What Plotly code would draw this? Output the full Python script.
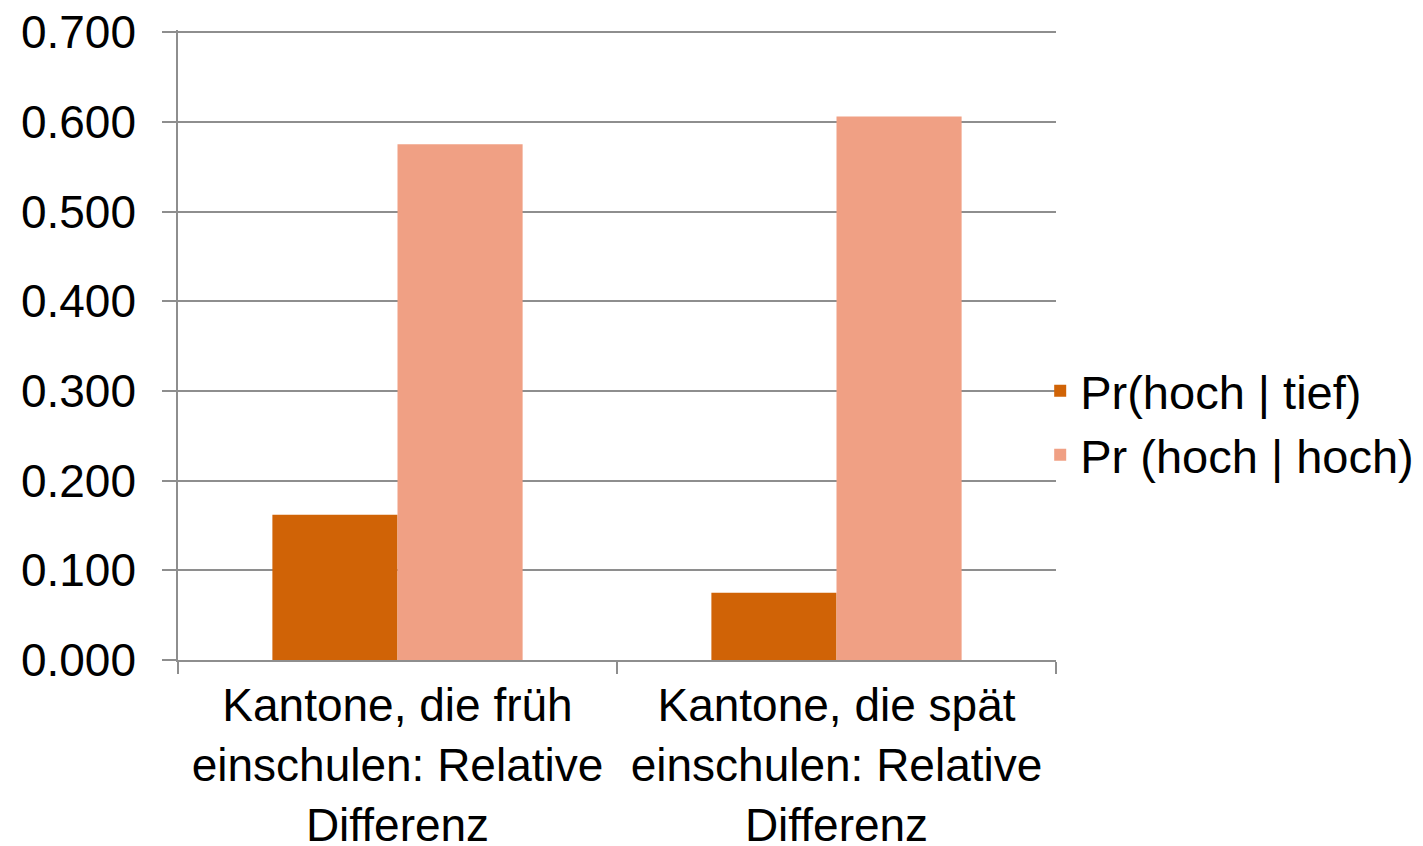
import plotly.graph_objects as go

categories = [
    "Kantone, die früh<br>einschulen: Relative<br>Differenz",
    "Kantone, die spät<br>einschulen: Relative<br>Differenz",
]
series_names = ["Pr(hoch | tief)", "Pr (hoch | hoch)"]
series_values = [
    [0.162, 0.075],
    [0.575, 0.606],
]
colors = ["#D06306", "#F0A084"]
tick_vals = [0.0, 0.1, 0.2, 0.3, 0.4, 0.5, 0.6, 0.7]

FONT = "Liberation Sans, Arial, sans-serif"
GRID = "#8E8E8E"

fig = go.Figure()
for name, vals, col in zip(series_names, series_values, colors):
    fig.add_trace(go.Bar(x=categories, y=vals, name=name, marker=dict(color=col, line=dict(width=0))))

# page body has an 8px default margin, so the figure is shrunk by 8px on each offset side
fig.update_layout(
    width=1415, height=838,
    margin=dict(l=170, r=367, t=22, b=186, autoexpand=False),
    paper_bgcolor="white", plot_bgcolor="white",
    barmode="group", bargap=0.43, bargroupgap=0,
    font=dict(family=FONT, size=46, color="black"),
    showlegend=True,
    legend=dict(x=0.982, xanchor="left", y=0.376, yanchor="middle",
                font=dict(size=47), bgcolor="rgba(0,0,0,0)"),
)
fig.update_yaxes(
    range=[0, 0.7025], tickvals=tick_vals, tickformat=".3f", automargin=False,
    showgrid=True, gridcolor=GRID, gridwidth=1.5,
    showline=True, linecolor=GRID, linewidth=1.5,
    ticks="outside", ticklen=14, tickcolor=GRID, tickwidth=1.5,
    ticklabelstandoff=17, zeroline=False, ticklabeloverflow="allow",
)
fig.update_xaxes(
    showline=True, linecolor=GRID, linewidth=1.5, automargin=False,
    ticks="outside", tickson="boundaries", ticklen=12, tickcolor=GRID, tickwidth=1.5,
    tickangle=0, showgrid=False, ticklabelstandoff=4, ticklabeloverflow="allow",
)

fig.write_html("out.html")
